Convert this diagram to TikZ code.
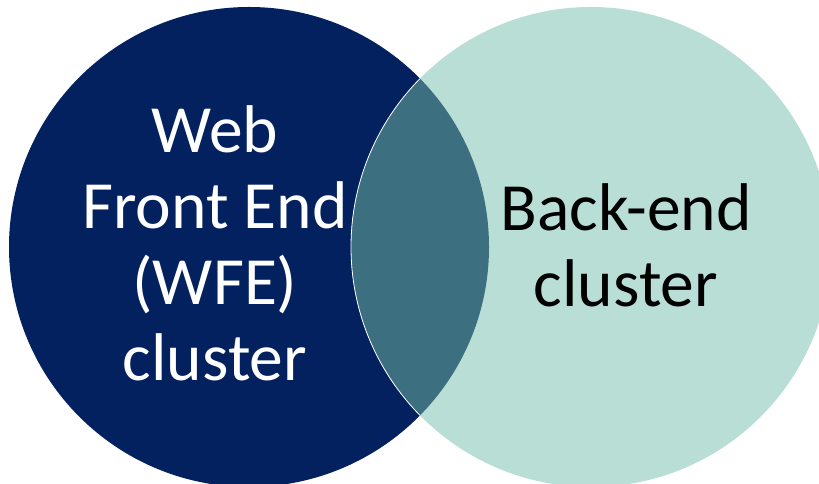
\documentclass[tikz,border=0pt]{standalone}
\usepackage{fontspec}
\setmainfont{Carlito}
\usetikzlibrary{positioning}
\definecolor{WFENavy}{RGB}{2,33,94}
\definecolor{BackMint}{RGB}{185,222,214}
\definecolor{OverlapTeal}{RGB}{60,111,128}

\begin{document}
\begin{tikzpicture}[x=1pt, y=1pt]
        \tikzstyle{label} = [align=center, font=\fontsize{67.5}{76}\selectfont]
        \useasboundingbox (0,0) rectangle (819,484);

        % the two sets
        \fill[WFENavy] (249,237) circle (240);
        \fill[BackMint] (591,237) circle (240);

        % overlap
        \begin{scope}
          \clip (249,237) circle (240);
          \fill[OverlapTeal] (591,237) circle (240);
          \draw[white, line width=0.8pt] (591,237) circle (240);
        \end{scope}

        \node[label, text=white] (wfe) at (215,241) {Web\\Front End\\(WFE)\\cluster};
        \node[label, text=black] (backend) at (626,239) {Back-end\\cluster};
      \end{tikzpicture}
\end{document}
